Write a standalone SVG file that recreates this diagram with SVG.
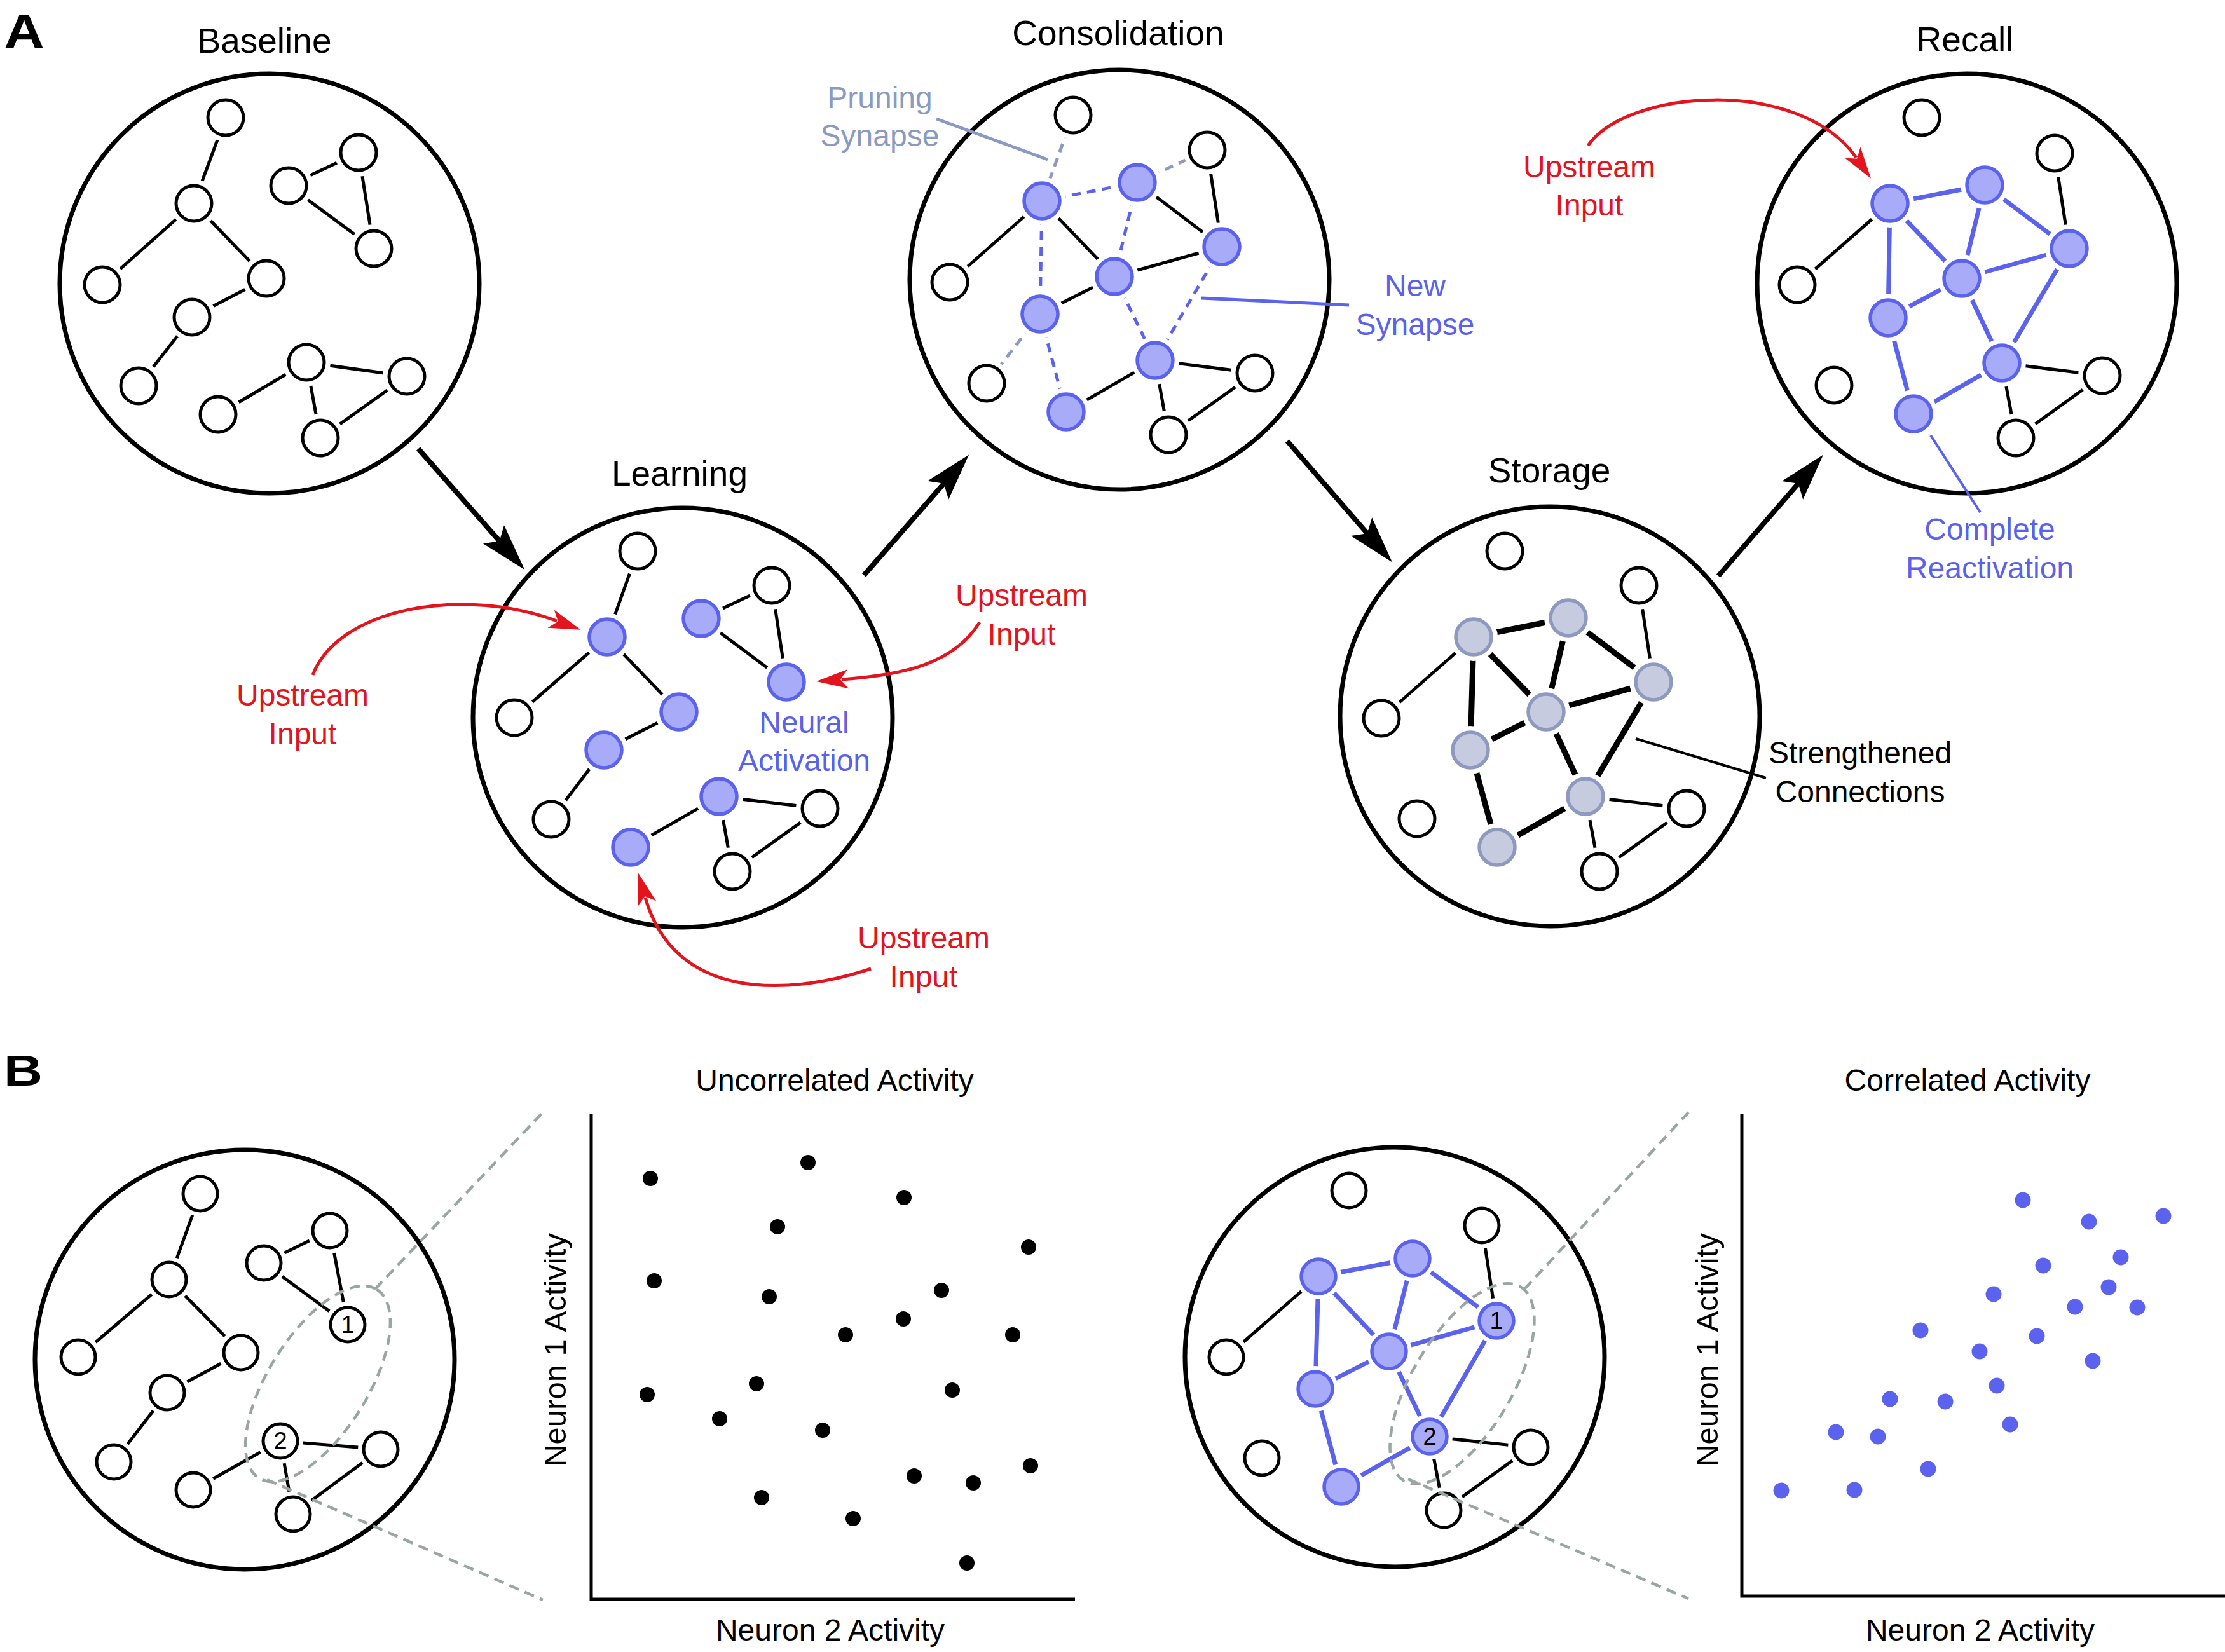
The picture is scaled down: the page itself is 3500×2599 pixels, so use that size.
<svg xmlns="http://www.w3.org/2000/svg" width="3500" height="2599" viewBox="0 0 3500 2599">
<style>
text{font-family:"Liberation Sans",Arial,sans-serif}
.t{font-size:55px;text-anchor:middle;fill:#000}
.l{font-size:48px;text-anchor:middle}
.v{font-size:49px;text-anchor:middle}
.red{fill:#e3141d}
.bt{fill:#5a62ec}
.pt{fill:#8a9ac0}
.halo{fill:#fff}
.n{fill:#fff;stroke:#000;stroke-width:5}
.nb{fill:#a8abf8;stroke:#5b63ee;stroke-width:5.5}
.ng{fill:#c6cbe0;stroke:#8e99bf;stroke-width:5.5}
.big{fill:none;stroke:#000;stroke-width:7}
.e{stroke:#000;stroke-width:5;fill:none}
.et{stroke:#000;stroke-width:9;fill:none}
.eb{stroke:#5b63ee;stroke-width:7;fill:none}
.ed{stroke:#5b63ee;stroke-width:5;stroke-dasharray:14 10;fill:none}
.ep{stroke:#8a9ac0;stroke-width:5;stroke-dasharray:14 10;fill:none}
.ra{stroke:#e3141d;stroke-width:5;fill:none;marker-end:url(#rah)}
.ka{stroke:#000;stroke-width:8;fill:none;marker-end:url(#kah)}
.gd{stroke:#9aa6a4;stroke-width:4.5;stroke-dasharray:16 10;fill:none}
.ax{stroke:#000;stroke-width:5;fill:none}
.dk{fill:#000}
.db{fill:#5b63ee}
.num{font-size:38px;text-anchor:middle;fill:#000}
</style>
<defs>
<marker id="kah" markerUnits="userSpaceOnUse" viewBox="-25 -25 85 50" markerWidth="85" markerHeight="50" refX="0" refY="0" orient="auto">
<path d="M55,0 L-19,-22 L-5,0 L-19,22 Z" fill="#000"/>
</marker>
<marker id="rah" markerUnits="userSpaceOnUse" viewBox="-15 -20 60 40" markerWidth="60" markerHeight="40" refX="0" refY="0" orient="auto">
<path d="M40,0 L-10,-15 L2,0 L-10,15 Z" fill="#e3141d"/>
</marker>
</defs>
<rect width="3500" height="2599" fill="#fff"/>

<text x="6" y="76" font-size="76" font-weight="bold" textLength="64" lengthAdjust="spacingAndGlyphs">A</text>
<text x="6" y="1708" font-size="68" font-weight="bold" textLength="61" lengthAdjust="spacingAndGlyphs">B</text>

<g id="titles">
<text class="t" x="416" y="83">Baseline</text>
<text class="t" x="1069" y="764">Learning</text>
<text class="t" x="1759" y="71">Consolidation</text>
<text class="t" x="2437" y="759">Storage</text>
<text class="t" x="3091" y="81">Recall</text>
</g>

<g id="stage-circles">
<circle class="big" cx="424" cy="446" r="330"/>
<circle class="big" cx="1074" cy="1129" r="330"/>
<circle class="big" cx="1761" cy="440" r="330"/>
<circle class="big" cx="2438" cy="1127" r="330"/>
<circle class="big" cx="3094" cy="446" r="330"/>
<circle class="big" cx="385" cy="2139" r="330"/>
<circle class="big" cx="2194" cy="2135" r="330"/>
</g>

<g id="connectors">
<!-- Baseline -->
<line class="e" x1="355" y1="185" x2="305" y2="320"/>
<line class="e" x1="305" y1="320" x2="161" y2="448"/>
<line class="e" x1="305" y1="320" x2="419" y2="438"/>
<line class="e" x1="419" y1="438" x2="302" y2="499"/>
<line class="e" x1="302" y1="499" x2="218" y2="607"/>
<line class="e" x1="454" y1="292" x2="564" y2="240"/>
<line class="e" x1="454" y1="292" x2="588" y2="391"/>
<line class="e" x1="564" y1="240" x2="588" y2="391"/>
<line class="e" x1="482" y1="570" x2="640" y2="592"/>
<line class="e" x1="482" y1="570" x2="343" y2="652"/>
<line class="e" x1="482" y1="570" x2="504" y2="689"/>
<line class="e" x1="640" y1="592" x2="504" y2="689"/>
<!-- Learning -->
<line class="e" x1="1003" y1="867" x2="955" y2="1002"/>
<line class="e" x1="955" y1="1002" x2="809" y2="1129"/>
<line class="e" x1="955" y1="1002" x2="1068" y2="1120"/>
<line class="e" x1="1068" y1="1120" x2="950" y2="1180"/>
<line class="e" x1="950" y1="1180" x2="867" y2="1289"/>
<line class="e" x1="1103" y1="973" x2="1214" y2="921"/>
<line class="e" x1="1103" y1="973" x2="1237" y2="1073"/>
<line class="e" x1="1214" y1="921" x2="1237" y2="1073"/>
<line class="e" x1="1131" y1="1253" x2="1290" y2="1272"/>
<line class="e" x1="1131" y1="1253" x2="992" y2="1333"/>
<line class="e" x1="1131" y1="1253" x2="1152" y2="1371"/>
<line class="e" x1="1290" y1="1272" x2="1152" y2="1371"/>
<!-- Consolidation -->
<line class="ep" x1="1688" y1="181" x2="1639" y2="316"/>
<line class="ep" x1="1789" y1="287" x2="1899" y2="236"/>
<line class="ed" x1="1639" y1="316" x2="1789" y2="287"/>
<line class="e" x1="1639" y1="316" x2="1494" y2="444"/>
<line class="e" x1="1639" y1="316" x2="1753" y2="435"/>
<line class="ed" x1="1639" y1="316" x2="1636" y2="494"/>
<line class="e" x1="1789" y1="287" x2="1922" y2="388"/>
<line class="ed" x1="1789" y1="287" x2="1753" y2="435"/>
<line class="e" x1="1899" y1="236" x2="1922" y2="388"/>
<line class="e" x1="1753" y1="435" x2="1922" y2="388"/>
<line class="e" x1="1753" y1="435" x2="1636" y2="494"/>
<line class="ed" x1="1753" y1="435" x2="1817" y2="567"/>
<line class="ed" x1="1922" y1="388" x2="1817" y2="567"/>
<line class="ep" x1="1636" y1="494" x2="1552" y2="603"/>
<line class="ed" x1="1636" y1="494" x2="1677" y2="648"/>
<line class="e" x1="1817" y1="567" x2="1677" y2="648"/>
<line class="e" x1="1817" y1="567" x2="1974" y2="587"/>
<line class="e" x1="1817" y1="567" x2="1838" y2="684"/>
<line class="e" x1="1974" y1="587" x2="1838" y2="684"/>
<!-- Storage -->
<line class="et" x1="2318" y1="1002" x2="2467" y2="972"/>
<line class="e" x1="2318" y1="1002" x2="2173" y2="1130"/>
<line class="et" x1="2318" y1="1002" x2="2313" y2="1180"/>
<line class="et" x1="2318" y1="1002" x2="2432" y2="1120"/>
<line class="et" x1="2467" y1="972" x2="2432" y2="1120"/>
<line class="et" x1="2467" y1="972" x2="2601" y2="1073"/>
<line class="e" x1="2578" y1="921" x2="2601" y2="1073"/>
<line class="et" x1="2432" y1="1120" x2="2601" y2="1073"/>
<line class="et" x1="2432" y1="1120" x2="2313" y2="1180"/>
<line class="et" x1="2432" y1="1120" x2="2494" y2="1253"/>
<line class="et" x1="2601" y1="1073" x2="2494" y2="1253"/>
<line class="et" x1="2313" y1="1180" x2="2355" y2="1333"/>
<line class="et" x1="2494" y1="1253" x2="2355" y2="1333"/>
<line class="e" x1="2494" y1="1253" x2="2653" y2="1272"/>
<line class="e" x1="2494" y1="1253" x2="2516" y2="1371"/>
<line class="e" x1="2653" y1="1272" x2="2516" y2="1371"/>
<!-- Recall -->
<line class="eb" x1="2973" y1="320" x2="3122" y2="291"/>
<line class="e" x1="2973" y1="320" x2="2827" y2="448"/>
<line class="eb" x1="2973" y1="320" x2="3086" y2="438"/>
<line class="eb" x1="2973" y1="320" x2="2970" y2="500"/>
<line class="eb" x1="3122" y1="291" x2="3086" y2="438"/>
<line class="eb" x1="3122" y1="291" x2="3255" y2="391"/>
<line class="e" x1="3232" y1="241" x2="3255" y2="391"/>
<line class="eb" x1="3086" y1="438" x2="3255" y2="391"/>
<line class="eb" x1="3086" y1="438" x2="2970" y2="500"/>
<line class="eb" x1="3086" y1="438" x2="3149" y2="571"/>
<line class="eb" x1="3255" y1="391" x2="3149" y2="571"/>
<line class="eb" x1="2970" y1="500" x2="3010" y2="651"/>
<line class="eb" x1="3149" y1="571" x2="3010" y2="651"/>
<line class="e" x1="3149" y1="571" x2="3307" y2="591"/>
<line class="e" x1="3149" y1="571" x2="3171" y2="689"/>
<line class="e" x1="3307" y1="591" x2="3171" y2="689"/>
<!-- B left -->
<line class="e" x1="315" y1="1878" x2="266" y2="2013"/>
<line class="e" x1="266" y1="2013" x2="123" y2="2135"/>
<line class="e" x1="266" y1="2013" x2="379" y2="2128"/>
<line class="e" x1="379" y1="2128" x2="263" y2="2191"/>
<line class="e" x1="263" y1="2191" x2="179" y2="2300"/>
<line class="e" x1="415" y1="1987" x2="519" y2="1936"/>
<line class="e" x1="415" y1="1987" x2="547" y2="2084"/>
<line class="e" x1="519" y1="1936" x2="547" y2="2084"/>
<line class="e" x1="441" y1="2267" x2="599" y2="2280"/>
<line class="e" x1="441" y1="2267" x2="304" y2="2344"/>
<line class="e" x1="441" y1="2267" x2="461" y2="2382"/>
<line class="e" x1="599" y1="2280" x2="461" y2="2382"/>
<!-- B right -->
<line class="eb" x1="2074" y1="2008" x2="2222" y2="1980"/>
<line class="e" x1="2074" y1="2008" x2="1929" y2="2135"/>
<line class="eb" x1="2074" y1="2008" x2="2185" y2="2126"/>
<line class="eb" x1="2074" y1="2008" x2="2069" y2="2185"/>
<line class="eb" x1="2222" y1="1980" x2="2185" y2="2126"/>
<line class="eb" x1="2222" y1="1980" x2="2354" y2="2078"/>
<line class="e" x1="2331" y1="1928" x2="2354" y2="2078"/>
<line class="eb" x1="2185" y1="2126" x2="2354" y2="2078"/>
<line class="eb" x1="2185" y1="2126" x2="2069" y2="2185"/>
<line class="eb" x1="2185" y1="2126" x2="2249" y2="2260"/>
<line class="eb" x1="2354" y1="2078" x2="2249" y2="2260"/>
<line class="eb" x1="2069" y1="2185" x2="2110" y2="2339"/>
<line class="eb" x1="2249" y1="2260" x2="2110" y2="2339"/>
<line class="e" x1="2249" y1="2260" x2="2408" y2="2277"/>
<line class="e" x1="2249" y1="2260" x2="2271" y2="2376"/>
<line class="e" x1="2408" y1="2277" x2="2271" y2="2376"/>
</g>

<g id="baseline-nodes">
<g id="bl1"><circle class="halo" cx="355" cy="185" r="38"/><circle class="n" cx="355" cy="185" r="28"/></g>
<g id="bl2"><circle class="halo" cx="305" cy="320" r="38"/><circle class="n" cx="305" cy="320" r="28"/></g>
<g id="bl3"><circle class="halo" cx="161" cy="448" r="38"/><circle class="n" cx="161" cy="448" r="28"/></g>
<g id="bl4"><circle class="halo" cx="419" cy="438" r="38"/><circle class="n" cx="419" cy="438" r="28"/></g>
<g id="bl5"><circle class="halo" cx="302" cy="499" r="38"/><circle class="n" cx="302" cy="499" r="28"/></g>
<g id="bl6"><circle class="halo" cx="218" cy="607" r="38"/><circle class="n" cx="218" cy="607" r="28"/></g>
<g id="bl7"><circle class="halo" cx="454" cy="292" r="38"/><circle class="n" cx="454" cy="292" r="28"/></g>
<g id="bl8"><circle class="halo" cx="564" cy="240" r="38"/><circle class="n" cx="564" cy="240" r="28"/></g>
<g id="bl9"><circle class="halo" cx="588" cy="391" r="38"/><circle class="n" cx="588" cy="391" r="28"/></g>
<g id="bl10"><circle class="halo" cx="482" cy="570" r="38"/><circle class="n" cx="482" cy="570" r="28"/></g>
<g id="bl11"><circle class="halo" cx="640" cy="592" r="38"/><circle class="n" cx="640" cy="592" r="28"/></g>
<g id="bl12"><circle class="halo" cx="343" cy="652" r="38"/><circle class="n" cx="343" cy="652" r="28"/></g>
<g id="bl13"><circle class="halo" cx="504" cy="689" r="38"/><circle class="n" cx="504" cy="689" r="28"/></g>
</g>

<g id="learning-nodes">
<g id="ln1"><circle class="halo" cx="1003" cy="867" r="38"/><circle class="n" cx="1003" cy="867" r="28"/></g>
<g id="ln2"><circle class="halo" cx="955" cy="1002" r="38"/><circle class="nb" cx="955" cy="1002" r="28"/></g>
<g id="ln3"><circle class="halo" cx="809" cy="1129" r="38"/><circle class="n" cx="809" cy="1129" r="28"/></g>
<g id="ln4"><circle class="halo" cx="1068" cy="1120" r="38"/><circle class="nb" cx="1068" cy="1120" r="28"/></g>
<g id="ln5"><circle class="halo" cx="950" cy="1180" r="38"/><circle class="nb" cx="950" cy="1180" r="28"/></g>
<g id="ln6"><circle class="halo" cx="867" cy="1289" r="38"/><circle class="n" cx="867" cy="1289" r="28"/></g>
<g id="ln7"><circle class="halo" cx="1103" cy="973" r="38"/><circle class="nb" cx="1103" cy="973" r="28"/></g>
<g id="ln8"><circle class="halo" cx="1214" cy="921" r="38"/><circle class="n" cx="1214" cy="921" r="28"/></g>
<g id="ln9"><circle class="halo" cx="1237" cy="1073" r="38"/><circle class="nb" cx="1237" cy="1073" r="28"/></g>
<g id="ln10"><circle class="halo" cx="1131" cy="1253" r="38"/><circle class="nb" cx="1131" cy="1253" r="28"/></g>
<g id="ln11"><circle class="halo" cx="1290" cy="1272" r="38"/><circle class="n" cx="1290" cy="1272" r="28"/></g>
<g id="ln12"><circle class="halo" cx="992" cy="1333" r="38"/><circle class="nb" cx="992" cy="1333" r="28"/></g>
<g id="ln13"><circle class="halo" cx="1152" cy="1371" r="38"/><circle class="n" cx="1152" cy="1371" r="28"/></g>
</g>

<g id="consolidation-nodes">
<g id="cn1"><circle class="halo" cx="1688" cy="181" r="38"/><circle class="n" cx="1688" cy="181" r="28"/></g>
<g id="cn2"><circle class="halo" cx="1899" cy="236" r="38"/><circle class="n" cx="1899" cy="236" r="28"/></g>
<g id="cn3"><circle class="halo" cx="1639" cy="316" r="38"/><circle class="nb" cx="1639" cy="316" r="28"/></g>
<g id="cn4"><circle class="halo" cx="1789" cy="287" r="38"/><circle class="nb" cx="1789" cy="287" r="28"/></g>
<g id="cn5"><circle class="halo" cx="1922" cy="388" r="38"/><circle class="nb" cx="1922" cy="388" r="28"/></g>
<g id="cn6"><circle class="halo" cx="1494" cy="444" r="38"/><circle class="n" cx="1494" cy="444" r="28"/></g>
<g id="cn7"><circle class="halo" cx="1753" cy="435" r="38"/><circle class="nb" cx="1753" cy="435" r="28"/></g>
<g id="cn8"><circle class="halo" cx="1636" cy="494" r="38"/><circle class="nb" cx="1636" cy="494" r="28"/></g>
<g id="cn9"><circle class="halo" cx="1552" cy="603" r="38"/><circle class="n" cx="1552" cy="603" r="28"/></g>
<g id="cn10"><circle class="halo" cx="1817" cy="567" r="38"/><circle class="nb" cx="1817" cy="567" r="28"/></g>
<g id="cn11"><circle class="halo" cx="1974" cy="587" r="38"/><circle class="n" cx="1974" cy="587" r="28"/></g>
<g id="cn12"><circle class="halo" cx="1677" cy="648" r="38"/><circle class="nb" cx="1677" cy="648" r="28"/></g>
<g id="cn13"><circle class="halo" cx="1838" cy="684" r="38"/><circle class="n" cx="1838" cy="684" r="28"/></g>
</g>

<g id="storage-nodes">
<g id="sn1"><circle class="halo" cx="2367" cy="867" r="38"/><circle class="n" cx="2367" cy="867" r="28"/></g>
<g id="sn2"><circle class="halo" cx="2578" cy="921" r="38"/><circle class="n" cx="2578" cy="921" r="28"/></g>
<g id="sn3"><circle class="halo" cx="2318" cy="1002" r="38"/><circle class="ng" cx="2318" cy="1002" r="28"/></g>
<g id="sn4"><circle class="halo" cx="2467" cy="972" r="38"/><circle class="ng" cx="2467" cy="972" r="28"/></g>
<g id="sn5"><circle class="halo" cx="2601" cy="1073" r="38"/><circle class="ng" cx="2601" cy="1073" r="28"/></g>
<g id="sn6"><circle class="halo" cx="2173" cy="1130" r="38"/><circle class="n" cx="2173" cy="1130" r="28"/></g>
<g id="sn7"><circle class="halo" cx="2432" cy="1120" r="38"/><circle class="ng" cx="2432" cy="1120" r="28"/></g>
<g id="sn8"><circle class="halo" cx="2313" cy="1180" r="38"/><circle class="ng" cx="2313" cy="1180" r="28"/></g>
<g id="sn9"><circle class="halo" cx="2229" cy="1288" r="38"/><circle class="n" cx="2229" cy="1288" r="28"/></g>
<g id="sn10"><circle class="halo" cx="2494" cy="1253" r="38"/><circle class="ng" cx="2494" cy="1253" r="28"/></g>
<g id="sn11"><circle class="halo" cx="2653" cy="1272" r="38"/><circle class="n" cx="2653" cy="1272" r="28"/></g>
<g id="sn12"><circle class="halo" cx="2355" cy="1333" r="38"/><circle class="ng" cx="2355" cy="1333" r="28"/></g>
<g id="sn13"><circle class="halo" cx="2516" cy="1371" r="38"/><circle class="n" cx="2516" cy="1371" r="28"/></g>
</g>

<g id="recall-nodes">
<g id="rn1"><circle class="halo" cx="3023" cy="185" r="38"/><circle class="n" cx="3023" cy="185" r="28"/></g>
<g id="rn2"><circle class="halo" cx="3232" cy="241" r="38"/><circle class="n" cx="3232" cy="241" r="28"/></g>
<g id="rn3"><circle class="halo" cx="2973" cy="320" r="38"/><circle class="nb" cx="2973" cy="320" r="28"/></g>
<g id="rn4"><circle class="halo" cx="3122" cy="291" r="38"/><circle class="nb" cx="3122" cy="291" r="28"/></g>
<g id="rn5"><circle class="halo" cx="3255" cy="391" r="38"/><circle class="nb" cx="3255" cy="391" r="28"/></g>
<g id="rn6"><circle class="halo" cx="2827" cy="448" r="38"/><circle class="n" cx="2827" cy="448" r="28"/></g>
<g id="rn7"><circle class="halo" cx="3086" cy="438" r="38"/><circle class="nb" cx="3086" cy="438" r="28"/></g>
<g id="rn8"><circle class="halo" cx="2970" cy="500" r="38"/><circle class="nb" cx="2970" cy="500" r="28"/></g>
<g id="rn9"><circle class="halo" cx="2885" cy="606" r="38"/><circle class="n" cx="2885" cy="606" r="28"/></g>
<g id="rn10"><circle class="halo" cx="3149" cy="571" r="38"/><circle class="nb" cx="3149" cy="571" r="28"/></g>
<g id="rn11"><circle class="halo" cx="3307" cy="591" r="38"/><circle class="n" cx="3307" cy="591" r="28"/></g>
<g id="rn12"><circle class="halo" cx="3010" cy="651" r="38"/><circle class="nb" cx="3010" cy="651" r="28"/></g>
<g id="rn13"><circle class="halo" cx="3171" cy="689" r="38"/><circle class="n" cx="3171" cy="689" r="28"/></g>
</g>

<g id="b-left-nodes">
<g id="bln1"><circle class="halo" cx="315" cy="1878" r="36"/><circle class="n" cx="315" cy="1878" r="27" stroke-width="4.5"/></g>
<g id="bln2"><circle class="halo" cx="266" cy="2013" r="36"/><circle class="n" cx="266" cy="2013" r="27" stroke-width="4.5"/></g>
<g id="bln3"><circle class="halo" cx="123" cy="2135" r="36"/><circle class="n" cx="123" cy="2135" r="27" stroke-width="4.5"/></g>
<g id="bln4"><circle class="halo" cx="379" cy="2128" r="36"/><circle class="n" cx="379" cy="2128" r="27" stroke-width="4.5"/></g>
<g id="bln5"><circle class="halo" cx="263" cy="2191" r="36"/><circle class="n" cx="263" cy="2191" r="27" stroke-width="4.5"/></g>
<g id="bln6"><circle class="halo" cx="179" cy="2300" r="36"/><circle class="n" cx="179" cy="2300" r="27" stroke-width="4.5"/></g>
<g id="bln7"><circle class="halo" cx="415" cy="1987" r="36"/><circle class="n" cx="415" cy="1987" r="27" stroke-width="4.5"/></g>
<g id="bln8"><circle class="halo" cx="519" cy="1936" r="36"/><circle class="n" cx="519" cy="1936" r="27" stroke-width="4.5"/></g>
<g id="bln9"><circle class="halo" cx="547" cy="2084" r="36"/><circle class="n" cx="547" cy="2084" r="27" stroke-width="4.5"/><text class="num" x="547" y="2097">1</text></g>
<g id="bln10"><circle class="halo" cx="441" cy="2267" r="36"/><circle class="n" cx="441" cy="2267" r="27" stroke-width="4.5"/><text class="num" x="441" y="2280">2</text></g>
<g id="bln11"><circle class="halo" cx="599" cy="2280" r="36"/><circle class="n" cx="599" cy="2280" r="27" stroke-width="4.5"/></g>
<g id="bln12"><circle class="halo" cx="304" cy="2344" r="36"/><circle class="n" cx="304" cy="2344" r="27" stroke-width="4.5"/></g>
<g id="bln13"><circle class="halo" cx="461" cy="2382" r="36"/><circle class="n" cx="461" cy="2382" r="27" stroke-width="4.5"/></g>
</g>

<g id="b-right-nodes">
<g id="brn1"><circle class="halo" cx="2122" cy="1873" r="36"/><circle class="n" cx="2122" cy="1873" r="27" stroke-width="4.5"/></g>
<g id="brn2"><circle class="halo" cx="2331" cy="1928" r="36"/><circle class="n" cx="2331" cy="1928" r="27" stroke-width="4.5"/></g>
<g id="brn3"><circle class="halo" cx="2074" cy="2008" r="36"/><circle class="nb" cx="2074" cy="2008" r="27"/></g>
<g id="brn4"><circle class="halo" cx="2222" cy="1980" r="36"/><circle class="nb" cx="2222" cy="1980" r="27"/></g>
<g id="brn5"><circle class="halo" cx="2354" cy="2078" r="36"/><circle class="nb" cx="2354" cy="2078" r="27"/><text class="num" x="2354" y="2091">1</text></g>
<g id="brn6"><circle class="halo" cx="1929" cy="2135" r="36"/><circle class="n" cx="1929" cy="2135" r="27" stroke-width="4.5"/></g>
<g id="brn7"><circle class="halo" cx="2185" cy="2126" r="36"/><circle class="nb" cx="2185" cy="2126" r="27"/></g>
<g id="brn8"><circle class="halo" cx="2069" cy="2185" r="36"/><circle class="nb" cx="2069" cy="2185" r="27"/></g>
<g id="brn9"><circle class="halo" cx="1985" cy="2294" r="36"/><circle class="n" cx="1985" cy="2294" r="27" stroke-width="4.5"/></g>
<g id="brn10"><circle class="halo" cx="2249" cy="2260" r="36"/><circle class="nb" cx="2249" cy="2260" r="27"/><text class="num" x="2249" y="2273">2</text></g>
<g id="brn11"><circle class="halo" cx="2408" cy="2277" r="36"/><circle class="n" cx="2408" cy="2277" r="27" stroke-width="4.5"/></g>
<g id="brn12"><circle class="halo" cx="2110" cy="2339" r="36"/><circle class="nb" cx="2110" cy="2339" r="27"/></g>
<g id="brn13"><circle class="halo" cx="2271" cy="2376" r="36"/><circle class="n" cx="2271" cy="2376" r="27" stroke-width="4.5"/></g>
</g>

<g id="stage-arrows">
<line class="ka" x1="658" y1="706" x2="789" y2="855"/>
<line class="ka" x1="1359" y1="905" x2="1488" y2="757"/>
<line class="ka" x1="2025" y1="694" x2="2154" y2="843"/>
<line class="ka" x1="2703" y1="906" x2="2832" y2="757"/>
</g>

<g id="input-arrows">
<path class="ra" d="M492,1062 C530,960 720,920 876,977"/>
<path class="ra" d="M1541,979 C1500,1045 1420,1062 1324,1069"/>
<path class="ra" d="M1370,1524 C1230,1570 1060,1570 1015,1412"/>
<path class="ra" d="M2498,229 C2560,140 2830,120 2920,248"/>
</g>

<g id="leaders">
<line x1="1473" y1="187" x2="1648" y2="251" stroke="#8a9ac0" stroke-width="5"/>
<line x1="1890" y1="469" x2="2122" y2="480" stroke="#5b63ee" stroke-width="5"/>
<line x1="2573" y1="1162" x2="2778" y2="1224" stroke="#000" stroke-width="4"/>
<line x1="3037" y1="685" x2="3115" y2="806" stroke="#5b63ee" stroke-width="4"/>
</g>

<g id="labels">
<text class="l red" x="476" y="1110">Upstream</text>
<text class="l red" x="476" y="1171">Input</text>
<text class="l red" x="1607" y="953">Upstream</text>
<text class="l red" x="1607" y="1014">Input</text>
<text class="l bt" x="1265" y="1153">Neural</text>
<text class="l bt" x="1265" y="1213">Activation</text>
<text class="l red" x="1453" y="1492">Upstream</text>
<text class="l red" x="1453" y="1553">Input</text>
<text class="l pt" x="1384" y="170">Pruning</text>
<text class="l pt" x="1384" y="230">Synapse</text>
<text class="l bt" x="2226" y="466">New</text>
<text class="l bt" x="2226" y="527">Synapse</text>
<text class="l" x="2926" y="1201">Strengthened</text>
<text class="l" x="2926" y="1262">Connections</text>
<text class="l red" x="2500" y="279">Upstream</text>
<text class="l red" x="2500" y="339">Input</text>
<text class="l bt" x="3130" y="849">Complete</text>
<text class="l bt" x="3130" y="910">Reactivation</text>
</g>

<g id="zoom-left">
<ellipse class="gd" cx="500" cy="2177" rx="175" ry="78" transform="rotate(-58 500 2177)"/>
<line class="gd" x1="590" y1="2028" x2="854" y2="1750"/>
<line class="gd" x1="420" y1="2328" x2="854" y2="2517"/>
</g>
<g id="zoom-right">
<ellipse class="gd" cx="2300" cy="2177" rx="178" ry="78" transform="rotate(-59 2300 2177)"/>
<line class="gd" x1="2398" y1="2028" x2="2656" y2="1750"/>
<line class="gd" x1="2215" y1="2327" x2="2656" y2="2515"/>
</g>

<g id="plot-left">
<text class="l" x="1313" y="1716">Uncorrelated Activity</text>
<path class="ax" d="M930,1753 V2516 H1691"/>
<text class="l" x="1306" y="2581">Neuron 2 Activity</text>
<text class="v" transform="translate(890,2124) rotate(-90)" x="0" y="0">Neuron 1 Activity</text>
<g class="dk">
<circle cx="1023" cy="1854" r="12"/><circle cx="1271" cy="1829" r="12"/><circle cx="1422" cy="1884" r="12"/>
<circle cx="1223" cy="1930" r="12"/><circle cx="1618" cy="1962" r="12"/><circle cx="1029" cy="2015" r="12"/>
<circle cx="1210" cy="2040" r="12"/><circle cx="1481" cy="2030" r="12"/><circle cx="1421" cy="2075" r="12"/>
<circle cx="1330" cy="2100" r="12"/><circle cx="1593" cy="2100" r="12"/><circle cx="1018" cy="2194" r="12"/>
<circle cx="1190" cy="2177" r="12"/><circle cx="1498" cy="2187" r="12"/><circle cx="1132" cy="2232" r="12"/>
<circle cx="1294" cy="2250" r="12"/><circle cx="1621" cy="2306" r="12"/><circle cx="1438" cy="2322" r="12"/>
<circle cx="1531" cy="2333" r="12"/><circle cx="1198" cy="2356" r="12"/><circle cx="1342" cy="2389" r="12"/>
<circle cx="1521" cy="2459" r="12"/>
</g>
</g>

<g id="plot-right">
<text class="l" x="3095" y="1716">Correlated Activity</text>
<path class="ax" d="M2740,1753 V2511 H3500"/>
<text class="l" x="3115" y="2581">Neuron 2 Activity</text>
<text class="v" transform="translate(2702,2124) rotate(-90)" x="0" y="0">Neuron 1 Activity</text>
<g class="db">
<circle cx="3182" cy="1888" r="12.5"/><circle cx="3286" cy="1922" r="12.5"/><circle cx="3403" cy="1913" r="12.5"/>
<circle cx="3336" cy="1978" r="12.5"/><circle cx="3214" cy="1991" r="12.5"/><circle cx="3317" cy="2025" r="12.5"/>
<circle cx="3136" cy="2036" r="12.5"/><circle cx="3264" cy="2056" r="12.5"/><circle cx="3362" cy="2057" r="12.5"/>
<circle cx="3021" cy="2093" r="12.5"/><circle cx="3204" cy="2102" r="12.5"/><circle cx="3114" cy="2126" r="12.5"/>
<circle cx="3292" cy="2141" r="12.5"/><circle cx="3141" cy="2180" r="12.5"/><circle cx="2973" cy="2201" r="12.5"/>
<circle cx="3060" cy="2205" r="12.5"/><circle cx="3162" cy="2241" r="12.5"/><circle cx="2888" cy="2253" r="12.5"/>
<circle cx="2954" cy="2260" r="12.5"/><circle cx="3033" cy="2311" r="12.5"/><circle cx="2802" cy="2345" r="12.5"/>
<circle cx="2917" cy="2344" r="12.5"/>
</g>
</g>
</svg>
